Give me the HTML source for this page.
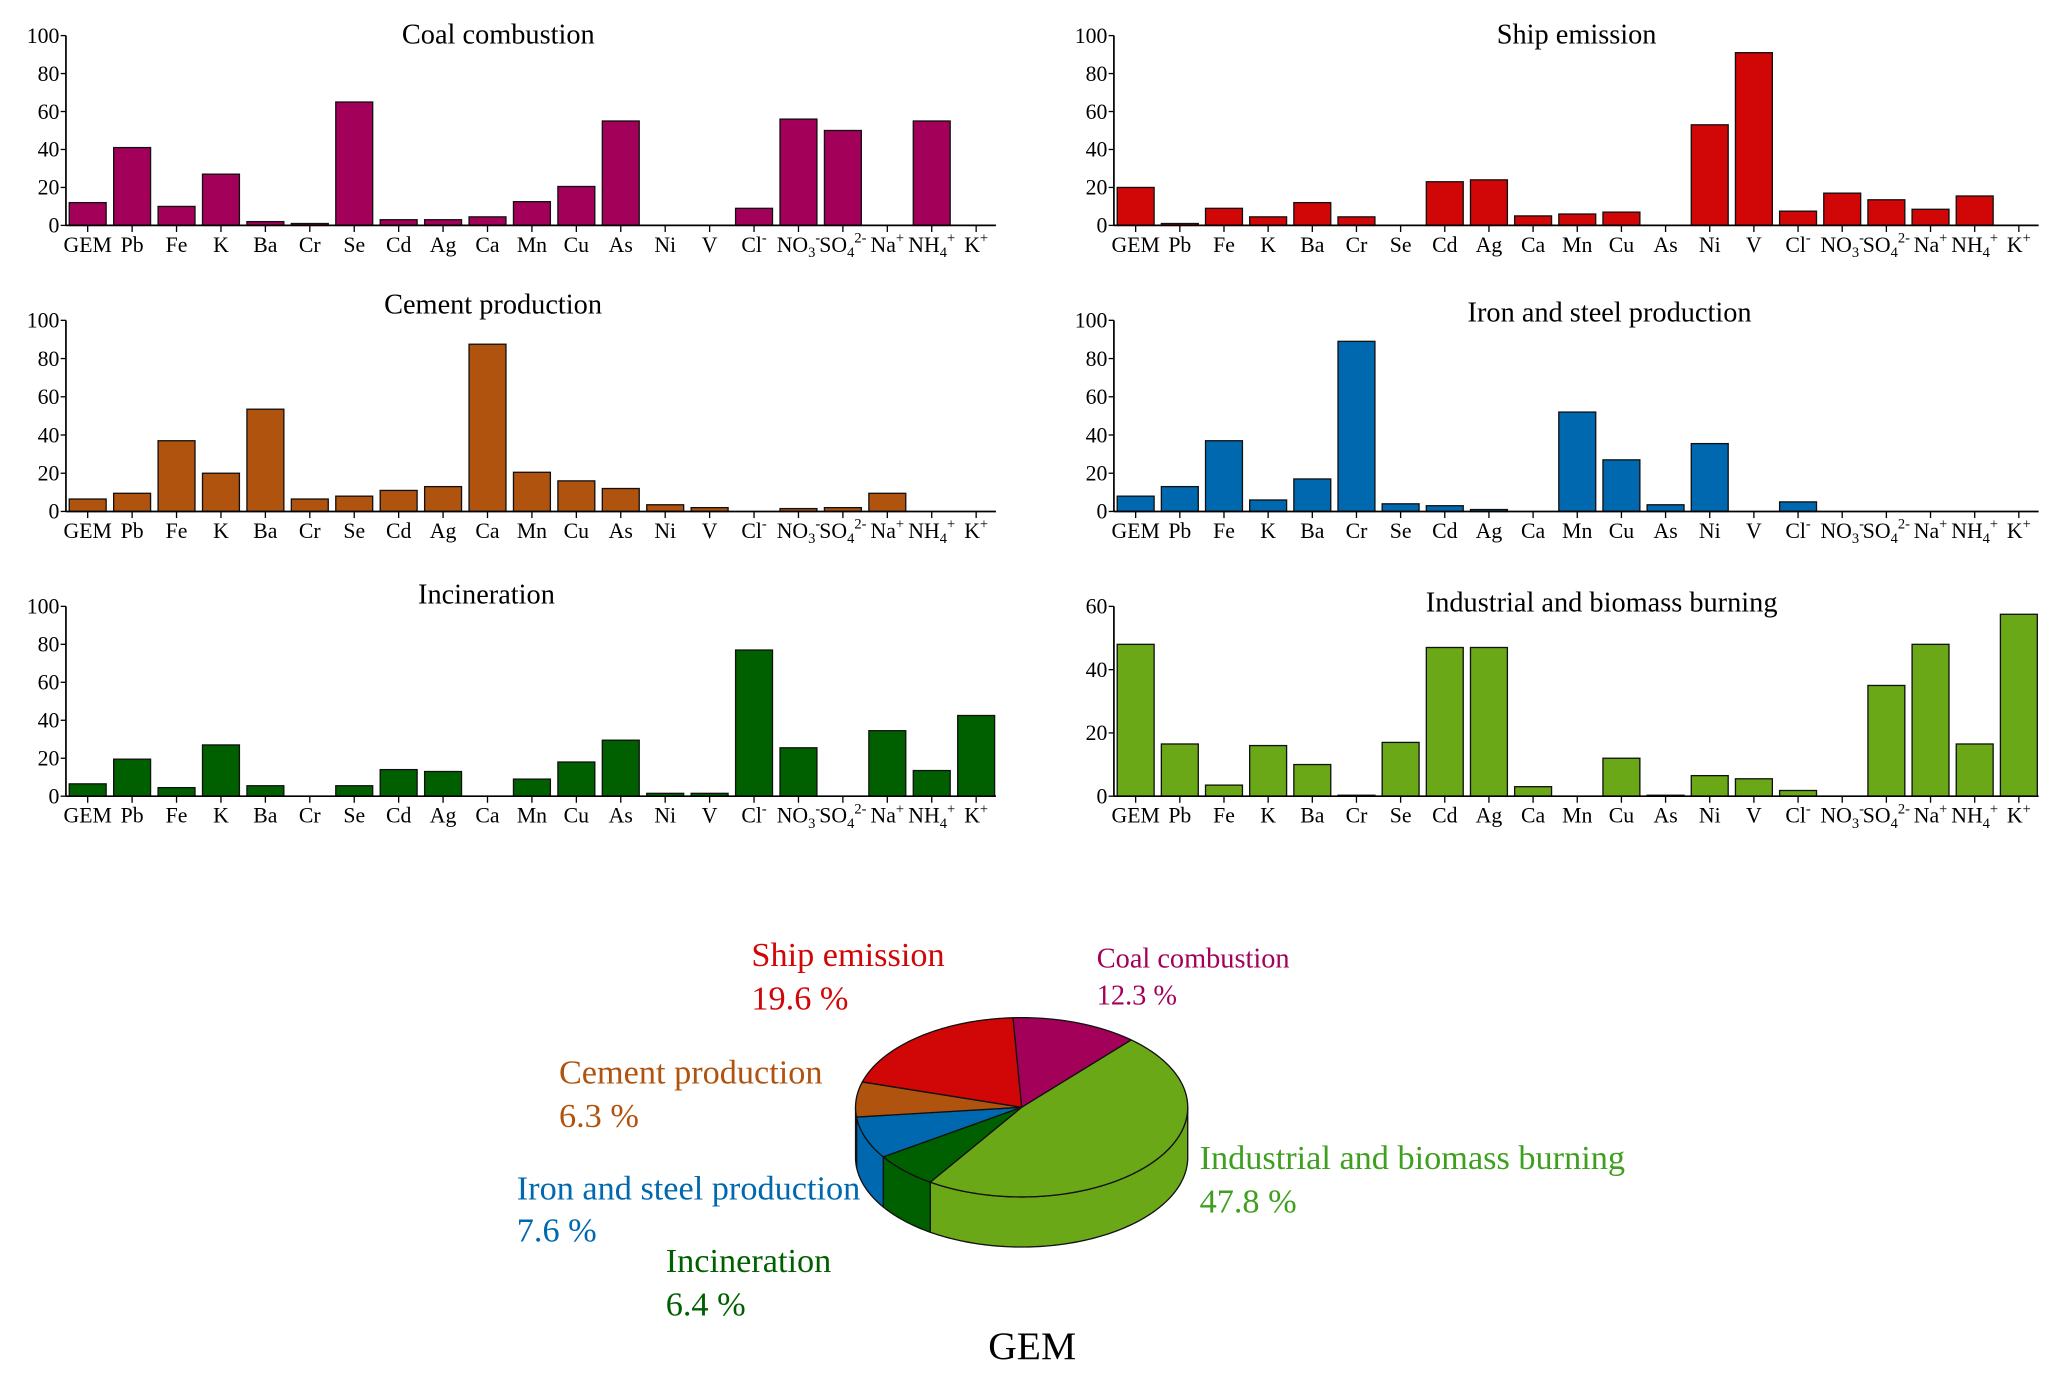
<!DOCTYPE html>
<html><head><meta charset="utf-8"><style>
html,body{margin:0;padding:0;background:#fff;}
svg{display:block;font-family:"Liberation Serif",serif;}
</style></head><body>
<svg id="fig" width="2067" height="1382" viewBox="0 0 1568 1048.4" xmlns="http://www.w3.org/2000/svg">
<rect width="1568" height="1048.4" fill="#fff"/>
</svg>
<script>
const categories=["GEM","Pb","Fe","K","Ba","Cr","Se","Cd","Ag","Ca","Mn","Cu","As","Ni","V","Cl-","NO3-","SO42-","Na+","NH4+","K+"];
const coalValues=[12,41,10,27,2,1,65,3,3,4.5,12.5,20.5,55,0,0,9,56,50,0,55,0];
const shipValues=[20,1,9,4.5,12,4.5,0,23,24,5,6,7,0,53,91,7.5,17,13.5,8.5,15.5,0];
const cementValues=[6.5,9.5,37,20,53.5,6.5,8,11,13,87.5,20.5,16,12,3.5,2,0,1.5,2,9.5,0,0];
const ironValues=[8,13,37,6,17,89,4,3,1,0,52,27,3.5,35.5,0,5,0,0,0,0,0];
const incinValues=[6.5,19.5,4.5,27,5.5,0,5.5,14,13,0,9,18,29.5,1.5,1.5,77,25.5,0,34.5,13.5,42.5];
const industrialValues=[48,16.5,3.5,16,10,0.3,17,47,47,3,0,12,0.3,6.5,5.5,1.8,0,35,48,16.5,57.5];
const ticks100=[0,20,40,60,80,100];
const ticks60=[0,20,40,60];
const pieLabels=["Coal combustion","Industrial and biomass burning","Incineration","Iron and steel production","Cement production","Ship emission"];
const pieValues=[12.3,47.8,6.4,7.6,6.3,19.6];

const NS="http://www.w3.org/2000/svg";
const svg=document.getElementById('fig');
function mk(tag,attrs,parent){const e=document.createElementNS(NS,tag);for(const k in attrs)e.setAttribute(k,attrs[k]);(parent||svg).appendChild(e);return e;}

function catLabel(g,name,x,y){
  const t=mk('text',{x:x,y:y,'text-anchor':'middle','font-size':16.5,fill:'#000'},g);
  
  
  const parts={"Cl-":[["Cl",""],["-","sup"]],"NO3-":[["NO",""],["3","sub"],["-","sup"]],"SO42-":[["SO",""],["4","sub"],["2-","sup"]],"Na+":[["Na",""],["+","sup"]],"NH4+":[["NH",""],["4","sub"],["+","sup"]],"K+":[["K",""],["+","sup"]]}[name]||[[name,""]];
  let prevSub=false;
  parts.forEach(p=>{const s=mk('tspan',{},t);s.textContent=p[0];
    if(p[1]==='sub'){s.setAttribute('font-size','11');s.setAttribute('dy','4');prevSub=true;}
    else if(p[1]==='sup'){s.setAttribute('font-size','11');s.setAttribute('dy',prevSub?'-11':'-7');}
  });
}

function panel(name,title,values,color,ax,y0,ytop,ticks,ymax,titleX,titleY,step){
  const g=mk('g',{});
  
  
  const gem=ax+16.5, bw=28;
  const xS=i=>gem+i*step;
  const yS=v=>y0-(v/ymax)*(y0-ytop);
  const tt=mk('text',{x:titleX,y:titleY,'text-anchor':'middle','font-size':21.5,fill:'#000'},g);
  tt.textContent=title;
  
  
  values.forEach((v,i)=>{
    if(v<=0)return;
    const r=mk('rect',{x:xS(i)-bw/2,y:yS(v),width:bw,height:y0-yS(v),fill:color,stroke:'#111','stroke-width':1},g);
    
    
  });
  const ya=mk('line',{x1:ax,y1:ytop,x2:ax,y2:y0,stroke:'#000','stroke-width':1.3},g);
  
  
  const xa=mk('line',{x1:ax,y1:y0,x2:xS(20)+15,y2:y0,stroke:'#000','stroke-width':1.3},g);
  
  
  ticks.forEach(t=>{
    mk('line',{x1:ax-4,y1:yS(t),x2:ax,y2:yS(t),stroke:'#000','stroke-width':1},g);
    const l=mk('text',{x:ax-5,y:yS(t)+5.5,'text-anchor':'end','font-size':16.5,fill:'#000'},g);
    l.textContent=t;
    
    
  });
  categories.forEach((c,i)=>{
    mk('line',{x1:xS(i),y1:y0,x2:xS(i),y2:y0+5,stroke:'#000','stroke-width':1},g);
    catLabel(g,c,xS(i),y0+20);
  });
}
panel('coal-combustion-chart','Coal combustion',coalValues,'#a3005a',50,171,27,ticks100,100,378,33,33.7);
panel('cement-production-chart','Cement production',cementValues,'#b0530e',50,388,243,ticks100,100,374,238,33.7);
panel('incineration-chart','Incineration',incinValues,'#006000',50,604,460,ticks100,100,369,458,33.7);
panel('ship-emission-chart','Ship emission',shipValues,'#d10606',845,171,27,ticks100,100,1196,33,33.5);
panel('iron-steel-chart','Iron and steel production',ironValues,'#0068ae',845,388,243,ticks100,100,1221,244,33.5);
panel('industrial-biomass-chart','Industrial and biomass burning',industrialValues,'#6aa817',845,604,460,ticks60,60,1215,464,33.5);

// Pie
const pieColors=["#a3005a","#6aa817","#006000","#0068ae","#b0530e","#d10606"];
const cx=775, cy=840, rx=126, ry=68, depth=38;
const pg=mk('g',{});


const total=pieValues.reduce((a,b)=>a+b,0);
let a0=-93;
const slices=pieValues.map(v=>{const s=a0, e=a0+v/total*360; a0=e; return [s,e];});
const P=(t,dy)=>[cx+rx*Math.cos(t*Math.PI/180), cy+(dy||0)+ry*Math.sin(t*Math.PI/180)];
slices.forEach((s,i)=>{
  for(const off of [0,360]){
    const lo=Math.max(s[0]-off,0), hi=Math.min(s[1]-off,180);
    if(hi<=lo) continue;
    let d='M'+P(lo).join(',');
    for(let t=lo;t<=hi;t+=1) d+=' L'+P(t).join(',');
    d+=' L'+P(hi).join(',')+' L'+P(hi,depth).join(',');
    for(let t=hi;t>=lo;t-=1) d+=' L'+P(t,depth).join(',');
    d+=' L'+P(lo,depth).join(',')+' Z';
    const w=mk('path',{d:d,fill:pieColors[i],stroke:'#111','stroke-width':1,'stroke-linejoin':'round'},pg);
    
    
  }
});
slices.forEach((s,i)=>{
  let d='M'+cx+','+cy+' L'+P(s[0]).join(',');
  for(let t=s[0];t<=s[1];t+=1) d+=' L'+P(t).join(',');
  d+=' L'+P(s[1]).join(',')+' Z';
  const p=mk('path',{d:d,fill:pieColors[i],stroke:'#111','stroke-width':1,'stroke-linejoin':'round'},pg);
  
  
});
const labelPos=[[832,734,762,21.5,'#a3005a'],[910,887,920,26,'#3f9f1f'],[505,965,998,26,'#006000'],[392,910,942,26,'#0068ae'],[424,822,855,26,'#b0530e'],[570,733,766,26,'#d10606']];
pieLabels.forEach((n,i)=>{
  const L=labelPos[i];
  const t1=mk('text',{x:L[0],y:L[1],'font-size':L[3],fill:L[4]},pg);
  t1.textContent=n;
  
  
  const t2=mk('text',{x:L[0],y:L[2],'font-size':L[3],fill:L[4]},pg);
  t2.textContent=pieValues[i].toFixed(1)+' %';
  
  
});
const gt=mk('text',{x:783,y:1031,'text-anchor':'middle','font-size':30,fill:'#000'},pg);
gt.textContent='GEM';


</script>
</body></html>
